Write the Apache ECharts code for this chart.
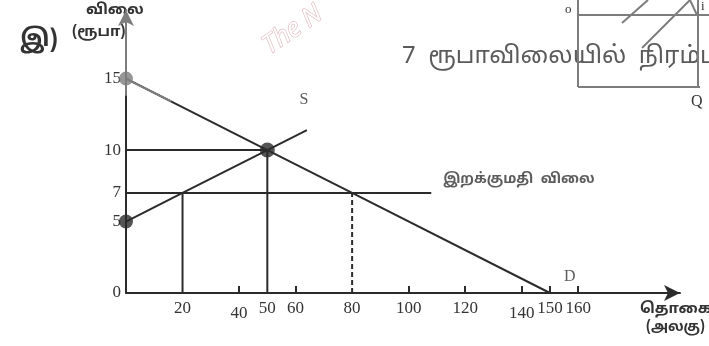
<!DOCTYPE html>
<html>
<head>
<meta charset="utf-8">
<script src="https://cdn.jsdelivr.net/npm/echarts@6/dist/echarts.min.js"></script>
<style>
  html, body { margin: 0; padding: 0; background: #fff; }
  #chart { width: 709px; height: 346px; }
</style>
</head>
<body>
<div id="chart"></div>
<script>
// axis labels
const xTicks = [20, 40, 50, 60, 80, 100, 120, 140, 150, 160];
const xSmallTicks = [40, 60, 100, 120, 140, 150, 160];
const yTicks = [0, 5, 7, 10, 15];

// demand: D  (price falls from 15 to 0 at 150)
const demandQty = [0, 50, 80, 150];
const demandPrice = [15, 10, 7, 0];
// supply: S
const supplyQty = [0, 20, 50, 64];
const supplyPrice = [5, 7, 10, 11.4];

// import price line
const importPrice = 7;
const importLineQty = [0, 108];
const importQty = [20, 80];   // supply / demand at import price

const equilibrium = [50, 10];

const ink = '#2b2b2b';
const grey = '#7d7d7d';
const serif = '"Liberation Serif", "DejaVu Serif", serif';
const tamil = '"Noto Sans Tamil", "Noto Serif Tamil", "Lohit Tamil", "Noto Sans", sans-serif';

const pairs = (xs, ys) => xs.map((x, i) => [x, ys[i]]);

function segment(data, extra) {
    return Object.assign({
        type: 'line',
        data: data,
        symbol: 'none',
        silent: true,
        lineStyle: { color: ink, width: 2 },
        z: 3
    }, extra || {});
}

const chart = echarts.init(document.getElementById('chart'));

const option = {
    animation: false,
    grid: { left: 126, right: 29, top: 10, bottom: 53, containLabel: false, outerBoundsMode: 'none' },
    xAxis: {
        type: 'value',
        min: 0,
        max: 196,
        splitLine: { show: false },
        axisLine: {
            lineStyle: { color: ink, width: 2 },
            symbol: ['none', 'arrow'],
            symbolSize: [12, 16]
        },
        axisTick: {
            show: true,
            inside: true,
            length: 7,
            customValues: xSmallTicks,
            lineStyle: { color: ink, width: 2 }
        },
        axisLabel: {
            customValues: xTicks,
            margin: 7,
            color: '#333',
            fontFamily: serif,
            fontSize: 17,
            formatter: v => (v === 40 || v === 140) ? '{lo|' + v + '}' : '{n|' + v + '}',
            rich: {
                n: { fontFamily: serif, fontSize: 17, color: '#333' },
                lo: { fontFamily: serif, fontSize: 17, color: '#333', padding: [5, 0, 0, 0] }
            }
        }
    },
    yAxis: {
        type: 'value',
        min: 0,
        max: 19.8,
        splitLine: { show: false },
        axisLine: {
            lineStyle: { color: grey, width: 2 },
            symbol: ['none', 'arrow'],
            symbolSize: [12, 16]
        },
        axisTick: { show: false },
        axisLabel: {
            customValues: yTicks,
            margin: 5,
            color: '#333',
            fontFamily: serif,
            fontSize: 17
        }
    },
    series: [
        // lower part of the price axis is black
        segment([[0, 0], [0, 13.8]], { z: 4 }),
        segment(pairs(demandQty, demandPrice)),
        segment([[0, 15], [16, 13.4]], { lineStyle: { color: grey, width: 2 }, z: 4 }),
        segment(pairs(supplyQty, supplyPrice)),
        segment(pairs(importLineQty, [importPrice, importPrice])),
        segment([[0, equilibrium[1]], equilibrium]),
        segment([[equilibrium[0], 0], equilibrium]),
        segment([[importQty[0], 0], [importQty[0], importPrice]]),
        segment([[importQty[1], 0], [importQty[1], importPrice]], {
            lineStyle: { color: ink, width: 2, type: [5, 3] }
        }),
        {
            type: 'scatter',
            silent: true,
            z: 6,
            data: [
                { value: equilibrium, symbolSize: 15, itemStyle: { color: ink } },
                { value: [0, supplyPrice[0]], symbolSize: 14, itemStyle: { color: ink } },
                { value: [0, demandPrice[0]], symbolSize: 14, itemStyle: { color: grey } }
            ]
        },
        {
            type: 'scatter',
            silent: true,
            symbolSize: 0,
            z: 6,
            label: {
                show: true,
                position: 'inside',
                formatter: p => p.data.name,
                color: '#333',
                fontFamily: serif,
                fontSize: 16
            },
            data: [
                { name: 'S', value: [63, 13.5] },
                { name: 'D', value: [157, 1.1] },
                {
                    name: 'இறக்குமதி  விலை', value: [139, 7.9],
                    label: { fontFamily: tamil, fontSize: 14, fontWeight: 'bold', color: '#333' }
                }
            ]
        }
    ],
    graphic: [
        // axis titles
        { type: 'text', left: 86, top: 3, style: { text: 'விலை', font: 'bold 15px ' + tamil, fill: '#333' } },
        { type: 'text', left: 72, top: 25, style: { text: '(ரூபா)', font: 'bold 15px ' + tamil, fill: '#333' } },
        { type: 'text', left: 640, top: 302, style: { text: 'தொகை', font: 'bold 15px ' + tamil, fill: '#333' } },
        { type: 'text', left: 646, top: 321, style: { text: '(அலகு)', font: 'bold 14px ' + tamil, fill: '#333' } },
        // item marker
        { type: 'text', left: 20, top: 29, style: { text: 'இ)', font: 'bold 24px ' + tamil, fill: '#333' } },
        // scan watermark
        {
            type: 'text', x: 258, y: 38, rotation: 0.6,
            style: { text: 'The N', font: 'italic 26px "Open Sans", sans-serif', fill: '#fff', stroke: '#dcb4b8', lineWidth: 1.2 }
        },
        // neighbouring text on the page
        { type: 'text', left: 402, top: 46, style: { text: '7  ரூபாவிலையில்  நிரம்பல்', font: '24px ' + tamil, fill: '#5a5a5a' } },
        // neighbouring figure corner (top right)
        {
            type: 'group', silent: true,
            children: [
                { type: 'line', shape: { x1: 578, y1: 0, x2: 578, y2: 87 }, style: { stroke: grey, lineWidth: 2 } },
                { type: 'line', shape: { x1: 698, y1: 0, x2: 698, y2: 87 }, style: { stroke: grey, lineWidth: 2 } },
                { type: 'line', shape: { x1: 578, y1: 15, x2: 709, y2: 15 }, style: { stroke: grey, lineWidth: 2 } },
                { type: 'line', shape: { x1: 578, y1: 87, x2: 700, y2: 87 }, style: { stroke: grey, lineWidth: 2 } },
                { type: 'line', shape: { x1: 622, y1: 23, x2: 648, y2: 0 }, style: { stroke: grey, lineWidth: 2 } },
                { type: 'line', shape: { x1: 642, y1: 48, x2: 690, y2: 0 }, style: { stroke: grey, lineWidth: 2 } },
                { type: 'line', shape: { x1: 690, y1: 0, x2: 697, y2: 15 }, style: { stroke: grey, lineWidth: 2 } },
                { type: 'text', left: 565, top: 3, style: { text: 'o', font: '13px ' + serif, fill: '#333' } },
                { type: 'text', left: 701, top: 0, style: { text: 'i', font: '13px ' + serif, fill: '#333' } },
                { type: 'text', left: 691, top: 94, style: { text: 'Q', font: '16px ' + serif, fill: '#333' } }
            ]
        }
    ]
};

chart.setOption(option);
</script>
</body>
</html>
